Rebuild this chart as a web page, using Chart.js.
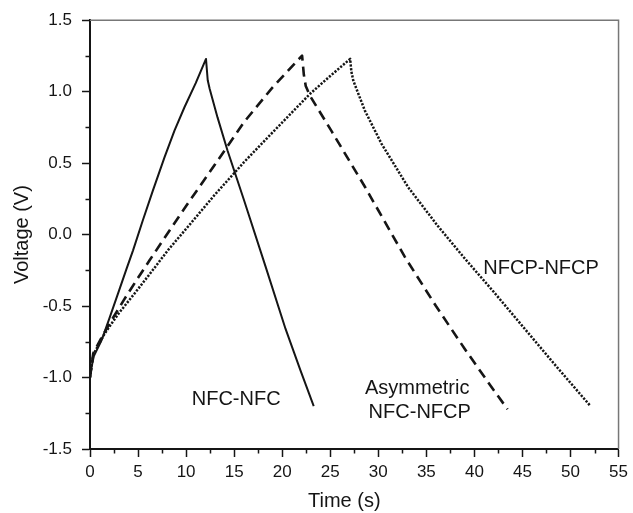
<!DOCTYPE html>
<html><head><meta charset="utf-8">
<script src="https://cdn.jsdelivr.net/npm/chart.js@4.4.0/dist/chart.umd.min.js"></script>
<style>html,body{margin:0;padding:0;background:#fff;}canvas{display:block;}</style>
</head><body>
<canvas id="c" width="633" height="513"></canvas>
<script>
// ---- data ----
const nfcTime    = [0, 0.15, 0.4, 1.2, 2.0, 2.93, 3.8, 4.48, 5.5, 6.55, 7.76, 8.79, 9.83, 11.0, 12.07, 12.25, 12.45, 13.27, 14.3, 16.03, 18.28, 20.35, 21.9, 23.28];
const nfcVoltage = [-1.0, -0.93, -0.85, -0.74, -0.59, -0.41, -0.24, -0.11, 0.1, 0.309, 0.542, 0.728, 0.891, 1.06, 1.229, 1.08, 1.02, 0.82, 0.59, 0.24, -0.226, -0.66, -0.95, -1.2];

const asymTime    = [0, 0.34, 1.2, 2.24, 3.5, 4.83, 6.2, 7.59, 10, 13, 16.03, 19, 22.07, 22.25, 22.45, 22.9, 25.17, 28.62, 32.76, 36, 39, 41.5, 43.45];
const asymVoltage = [-1.0, -0.83, -0.72, -0.6, -0.46, -0.32, -0.18, -0.04, 0.2, 0.49, 0.787, 1.03, 1.252, 1.12, 1.04, 0.97, 0.72, 0.333, -0.156, -0.5, -0.8, -1.04, -1.222];

const nfcpTime    = [0, 0.34, 1.55, 3, 4.66, 6.4, 8.1, 10, 13, 16.03, 18.5, 20.7, 22.9, 25, 27.07, 27.2, 27.4, 28.6, 30.34, 33.1, 36.2, 38.97, 42, 45, 48.5, 52.07];
const nfcpVoltage = [-1.0, -0.84, -0.69, -0.55, -0.41, -0.26, -0.11, 0.04, 0.28, 0.507, 0.68, 0.833, 0.985, 1.11, 1.229, 1.14, 1.077, 0.868, 0.635, 0.332, 0.06, -0.165, -0.4, -0.64, -0.92, -1.199];

const xTicks = [0, 5, 10, 15, 20, 25, 30, 35, 40, 45, 50, 55];
const yTicks = [-1.5, -1.0, -0.5, 0.0, 0.5, 1.0, 1.5];
const xMinorTicks = [2.5, 7.5, 12.5, 17.5, 22.5, 27.5, 32.5, 37.5, 42.5, 47.5, 52.5];
const yMinorTicks = [-1.25, -0.75, -0.25, 0.25, 0.75, 1.25];

const seriesNames = ['NFC-NFC', 'Asymmetric NFC-NFCP', 'NFCP-NFCP'];
const xTitle = 'Time (s)';
const yTitle = 'Voltage (V)';
// in-plot labels, anchored in data units
const labelTexts = [['NFC-NFC'], ['Asymmetric'], ['NFC-NFCP'], ['NFCP-NFCP']];
const labelAnchors = [[15.21, -1.157], [34.05, -1.075], [34.31, -1.245], [46.94, -0.237]];

const FONT = '"Liberation Sans", Arial, sans-serif';
const INK = '#151515';

function pts(xs, ys) { return xs.map((x, i) => ({x: x, y: ys[i]})); }

const extras = {
  id: 'extras',
  afterDraw(chart) {
    const ctx = chart.ctx, a = chart.chartArea;
    const xs = chart.scales.x, ys = chart.scales.y;
    ctx.save();
    // top & right frame
    ctx.strokeStyle = '#777';
    ctx.lineWidth = 1.5;
    ctx.beginPath();
    ctx.moveTo(a.left, a.top); ctx.lineTo(a.right, a.top); ctx.lineTo(a.right, a.bottom);
    ctx.stroke();
    // minor ticks
    ctx.strokeStyle = INK; ctx.lineWidth = 1.5;
    ctx.beginPath();
    xMinorTicks.forEach(v => { const p = Math.round(xs.getPixelForValue(v)) + 0.5; ctx.moveTo(p, a.bottom); ctx.lineTo(p, a.bottom + 4.5); });
    yMinorTicks.forEach(v => { const p = Math.round(ys.getPixelForValue(v)) + 0.5; ctx.moveTo(a.left, p); ctx.lineTo(a.left - 4.5, p); });
    ctx.stroke();
    // in-plot labels
    ctx.fillStyle = INK;
    ctx.font = '20px ' + FONT;
    ctx.textAlign = 'center'; ctx.textBaseline = 'middle';
    labelTexts.forEach((lines, i) => {
      const px = xs.getPixelForValue(labelAnchors[i][0]);
      const py = ys.getPixelForValue(labelAnchors[i][1]);
      lines.forEach((s, j) => ctx.fillText(s, px, py + j * 24));
    });
    // x-axis title
    ctx.fillText(xTitle, (a.left + a.right) / 2 - 10, 501);
    ctx.restore();
  }
};

const lineBase = {showLine: true, borderColor: INK, pointRadius: 0, tension: 0, borderJoinStyle: 'round'};

new Chart(document.getElementById('c'), {
  type: 'scatter',
  data: {
    datasets: [
      Object.assign({label: seriesNames[0], data: pts(nfcTime, nfcVoltage), borderWidth: 2}, lineBase),
      Object.assign({label: seriesNames[1], data: pts(asymTime, asymVoltage), borderWidth: 2.6, borderDash: [10, 6]}, lineBase),
      Object.assign({label: seriesNames[2], data: pts(nfcpTime, nfcpVoltage), borderWidth: 2.5, borderDash: [2.2, 1.5]}, lineBase)
    ]
  },
  options: {
    responsive: false,
    animation: false,
    devicePixelRatio: 1,
    layout: {padding: {left: 0, right: 11, top: 19, bottom: 0}},
    plugins: {legend: {display: false}, tooltip: {enabled: false}},
    scales: {
      x: {
        type: 'linear', min: 0, max: 55,
        afterFit(s) { s.height = 64; },
        afterBuildTicks(s) { s.ticks = xTicks.map(v => ({value: v})); },
        border: {color: INK, width: 2},
        grid: {drawOnChartArea: false, drawTicks: true, tickLength: 8, tickWidth: 1.5, tickColor: INK},
        ticks: {padding: 5, color: INK, font: {family: FONT, size: 17}, maxRotation: 0, callback: v => String(v)}
      },
      y: {
        type: 'linear', min: -1.5, max: 1.5,
        afterFit(s) { s.width = 90; },
        afterBuildTicks(s) { s.ticks = yTicks.map(v => ({value: v})); },
        border: {color: INK, width: 2},
        grid: {drawOnChartArea: false, drawTicks: true, tickLength: 8, tickWidth: 1.5, tickColor: INK},
        ticks: {padding: 10, color: INK, font: {family: FONT, size: 17}, callback: v => Number(v).toFixed(1)},
        title: {display: true, text: yTitle, color: INK, font: {family: FONT, size: 20}, padding: {top: 10, bottom: 0}}
      }
    }
  },
  plugins: [extras]
});
</script>
</body></html>
